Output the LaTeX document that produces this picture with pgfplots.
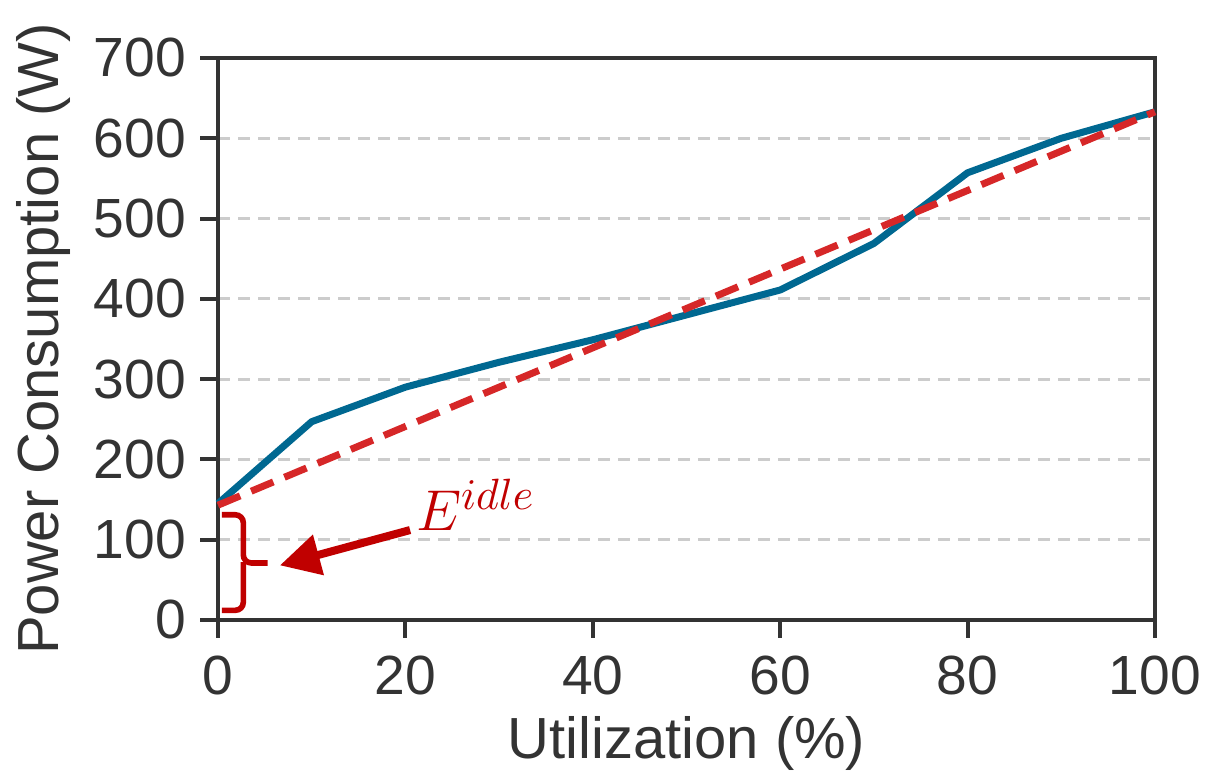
\documentclass[border=0pt]{standalone}
\usepackage{fontspec}
\setmainfont{Liberation Sans}
\usepackage{pgfplots}
\pgfplotsset{compat=1.18}
\usetikzlibrary{arrows.meta}
\definecolor{lineblue}{RGB}{0,104,145}
\definecolor{dashred}{RGB}{214,39,40}
\definecolor{annred}{RGB}{192,0,0}
\definecolor{spine}{RGB}{51,51,51}
\definecolor{gridgray}{RGB}{204,204,204}
\begin{document}
\begin{tikzpicture}
\begin{axis}[
  scale only axis,
  width=234.25pt, height=140.5pt,
  xmin=0, xmax=100, ymin=0, ymax=700,
  xtick={0,20,40,60,80,100},
  ytick={0,100,200,300,400,500,600,700},
  tick align=outside,
  tick pos=left,
  major tick length=4.5pt,
  axis line style={spine, line width=1pt},
  every tick/.style={spine, line width=1pt},
  ymajorgrids,
  grid style={gridgray, dash pattern=on 3pt off 2pt, line width=0.8pt},
  tick label style={font=\fontsize{13.8}{15}\selectfont, text=spine},
  xticklabel style={yshift=-1pt},
  /pgf/number format/assume math mode=true,
  label style={font=\fontsize{14.5}{16}\selectfont, text=spine},
  xlabel={Utilization (\%)},
  ylabel={Power Consumption (W)},
  xlabel style={yshift=1.5pt},
  ylabel style={yshift=-1pt},
  clip=false,
]
\path (rel axis cs:-0.2327,-0.2918) rectangle (rel axis cs:1.0694,1.1032);
\addplot[lineblue, line width=1.75pt, line join=round] coordinates {
(0,145) (10,247) (20,290) (30,321) (40,349) (50,380) (60,411) (70,469) (80,557) (90,600) (100,633)
};
\addplot[dashred, line width=1.75pt, dash pattern=on 6pt off 3pt] coordinates {
(0,143) (100,633)
};
\draw[annred, line width=1.4pt, rounded corners=2pt] (axis cs:0.4,131) -- (axis cs:2.7,131) -- (axis cs:2.7,71) -- (axis cs:5.3,71);
\draw[annred, line width=1.4pt, rounded corners=2pt] (axis cs:2.7,72) -- (axis cs:2.7,12) -- (axis cs:0.4,12);
\draw[annred, line width=2pt, -{Triangle[length=10pt, width=10pt]}] (axis cs:20.5,112) -- (axis cs:6.6,68);
\node[annred, font=\fontsize{15}{17}\selectfont] at (axis cs:27.5,143) {$E^{idle}$};
\end{axis}
\end{tikzpicture}
\end{document}
